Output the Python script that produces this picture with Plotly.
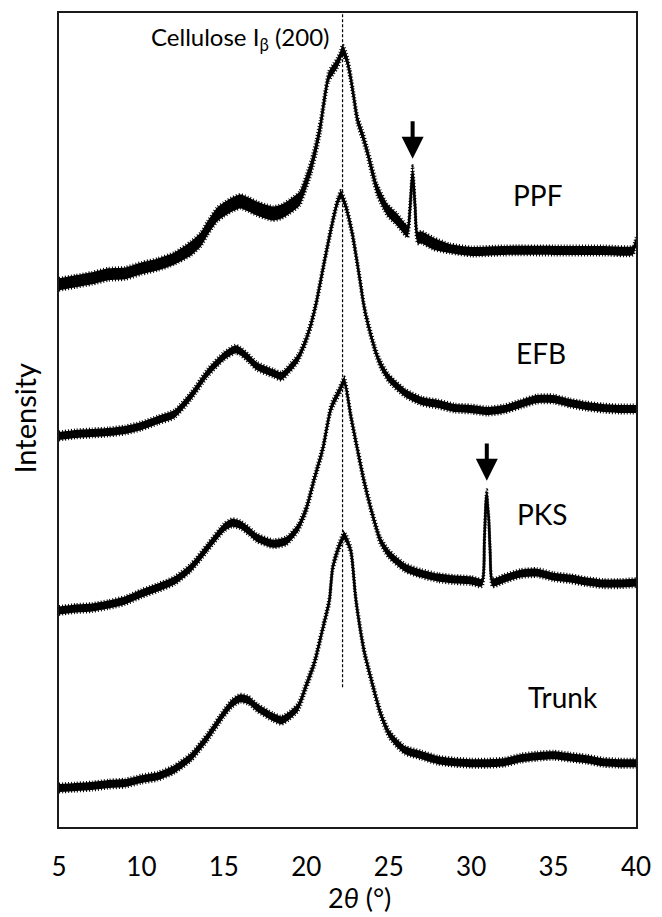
import numpy as np
import plotly.graph_objects as go

# ---- XRD patterns (2θ in degrees, stacked intensity in a.u.) ----
ppf_2theta = [5, 6, 7, 8, 9, 10, 11, 12, 13, 13.6, 14, 14.6, 15, 15.5, 16, 16.5, 17, 17.5, 18, 18.5,
              19, 19.6, 20, 20.3, 20.6, 20.85, 21.15, 21.35, 21.65, 21.85, 22.05, 22.2, 22.45, 22.65,
              22.85, 23.1, 23.4, 23.7, 24, 24.3, 24.9, 25.5, 26.0, 26.15, 26.3, 26.45, 26.6, 26.75,
              27, 27.7, 28.7, 30, 32, 35, 38, 39.8, 40]
ppf_int = [544, 547, 550, 554, 555, 560, 564, 570, 580, 589, 600, 614, 619, 624, 627, 624, 620, 617, 615, 617,
           622, 630, 647, 662, 682, 702, 735, 752, 760, 765, 772, 779, 770, 755,
           735, 709, 694, 677, 657, 639, 619, 609, 599, 597, 622, 657, 622, 591,
           591, 585, 580, 577, 578, 578, 578, 578, 587]

efb_2theta = [5, 6, 7, 8, 9, 10, 11, 12, 13, 14, 15, 15.7, 16, 16.5, 17, 18, 18.5, 19, 19.5, 20, 20.3,
              20.6, 21.1, 21.6, 21.9, 22.1, 22.4, 22.8, 23.2, 23.5, 23.7, 24.2, 24.5, 25, 26, 27, 28,
              29, 30, 31, 32, 33, 34, 35, 36, 37, 38, 39, 40]
efb_int = [392, 394, 395, 396, 398, 402, 408, 414, 432, 455, 472, 479, 477, 470, 462, 455, 452, 460, 470, 489, 505,
           525, 567, 607, 627, 634, 622, 594, 554, 522, 507, 477, 464, 450, 435, 427, 424,
           420, 419, 417, 419, 424, 429, 429, 425, 422, 420, 419, 419]

pks_2theta = [5, 6, 7, 8, 9, 10, 11, 12, 13, 14, 15, 15.5, 16, 16.5, 17, 18, 18.8, 19.5, 20, 20.5, 21,
              21.5, 22, 22.3, 22.7, 23, 23.5, 24, 24.5, 25, 26, 27, 28, 29, 30, 30.65, 30.8, 30.9,
              30.95, 31.0, 31.07, 31.15, 31.3, 32, 33, 34, 35, 36, 37, 38, 39, 40]
pks_int = [217, 219, 220, 223, 227, 234, 240, 247, 260, 280, 300, 305, 303, 297, 290, 284, 287, 300, 319, 350, 379,
           420, 437, 447, 412, 387, 347, 314, 287, 274, 260, 254, 250, 248, 247, 245, 287, 327,
           334, 322, 309, 277, 245, 249, 254, 255, 251, 249, 246, 244, 244, 245]

trunk_2theta = [5, 6, 7, 8, 9, 10, 11, 12, 13, 14, 15, 15.5, 16, 16.5, 17, 18, 18.5, 19, 19.5, 20, 20.5,
                21, 21.4, 21.6, 22, 22.3, 22.7, 23, 23.5, 24, 24.5, 25, 25.5, 26, 27, 28, 29, 30, 31,
                32, 33, 34, 35, 36, 37, 38, 39, 40]
trunk_int = [39, 40, 41, 43, 44, 48, 51, 58, 70, 90, 114, 124, 129, 127, 120, 110, 107, 112, 120, 142, 165,
             199, 227, 260, 282, 292, 277, 229, 177, 144, 114, 94, 84, 77, 72, 67, 65, 64, 64,
             65, 69, 71, 72, 70, 68, 65, 64, 64]

sample_names = ["PPF", "EFB", "PKS", "Trunk"]
# label anchor (2θ, intensity) for each sample name
label_2theta = [34.0, 34.25, 34.3, 35.6]
label_int = [634, 475, 314, 130]

# noise-band half-thickness per sample, as (start 2θ, half-width) steps
noise_steps = {
    "PPF": [(5, 6), (13, 7), (21, 5), (24, 6), (28, 4.5)],
    "EFB": [(5, 4)],
    "PKS": [(5, 4)],
    "Trunk": [(5, 4)],
}

# cellulose Iβ (200) reflection and the marked impurity peaks
cellulose_200 = 22.2
arrow_peaks = {"PPF": 26.45, "PKS": 30.95}

series = {
    "PPF": (ppf_2theta, ppf_int),
    "EFB": (efb_2theta, efb_int),
    "PKS": (pks_2theta, pks_int),
    "Trunk": (trunk_2theta, trunk_int),
}

FONT = "Lato, 'Open Sans', sans-serif"
INK = "#000000"
# ragged edge strokes give the band the look of a dense scan
EDGE = dict(color=INK, width=3, shape="spline", smoothing=0.6, dash="1px,2px")

fig = go.Figure()

for name in sample_names:
    x, y = series[name]
    x = np.asarray(x, float)
    y = np.asarray(y, float)
    half = np.zeros_like(x)
    for start, w in noise_steps[name]:
        half[x >= start] = w
    fig.add_trace(go.Scatter(x=x, y=y - half, mode="lines", line=EDGE,
                             showlegend=False, hoverinfo="skip"))
    fig.add_trace(go.Scatter(x=x, y=y + half, mode="lines", fill="tonexty", fillcolor=INK,
                             line=EDGE, showlegend=False, hoverinfo="skip"))
    fig.add_trace(go.Scatter(x=x, y=y, mode="lines", name=name,
                             line=dict(color=INK, width=2.5, shape="spline", smoothing=0.6),
                             showlegend=False))

# dashed marker through the (200) reflection
fig.add_shape(type="line", xref="x", yref="y", x0=cellulose_200, x1=cellulose_200,
              y0=140, y1=816, line=dict(color=INK, width=1.2, dash="3px,2px"))

annotations = []
for name, lx, ly in zip(sample_names, label_2theta, label_int):
    annotations.append(dict(x=lx, y=ly, xref="x", yref="y", text=name, showarrow=False,
                            font=dict(family=FONT, size=28, color=INK),
                            xanchor="center", yanchor="middle"))

annotations.append(dict(x=21.5, y=790, xref="x", yref="y",
                        text="Cellulose I<sub>β</sub> (200)", showarrow=False,
                        font=dict(family=FONT, size=24, color=INK),
                        xanchor="right", yanchor="middle"))

for name, px in arrow_peaks.items():
    xs, ys = series[name]
    peak_val = float(np.interp(px, xs, ys))
    annotations.append(dict(x=px, y=peak_val + 13, xref="x", yref="y",
                            ax=px, ay=peak_val + 52, axref="x", ayref="y",
                            text="", showarrow=True, arrowhead=2, arrowsize=1.1,
                            arrowwidth=4, arrowcolor=INK))

annotations.append(dict(x=(364 - 59) / 586, y=(827 - 898) / 816, xref="paper", yref="paper",
                        text="2<i>θ</i> (°)", showarrow=False,
                        font=dict(family=FONT, size=27, color=INK),
                        xanchor="center", yanchor="middle"))
annotations.append(dict(x=(23 - 59) / 586, y=(827 - 417) / 816, xref="paper", yref="paper",
                        text="Intensity", showarrow=False, textangle=-90,
                        font=dict(family=FONT, size=29, color=INK),
                        xanchor="center", yanchor="middle"))

fig.update_layout(
    width=662, height=917,
    margin=dict(l=59, r=17, t=11, b=90),
    paper_bgcolor="white", plot_bgcolor="white",
    annotations=annotations,
    font=dict(family=FONT, color=INK),
)
fig.update_xaxes(range=[5, 40], tickvals=[5, 10, 15, 20, 25, 30, 35, 40],
                 showgrid=False, zeroline=False, ticks="", ticklabelstandoff=16,
                 tickfont=dict(family=FONT, size=26, color=INK),
                 showline=True, mirror=True, linecolor="#1a1a1a", linewidth=2)
fig.update_yaxes(range=[0, 816], showticklabels=False, showgrid=False, zeroline=False,
                 ticks="", showline=True, mirror=True, linecolor="#1a1a1a", linewidth=2)

fig.write_html("out.html")
